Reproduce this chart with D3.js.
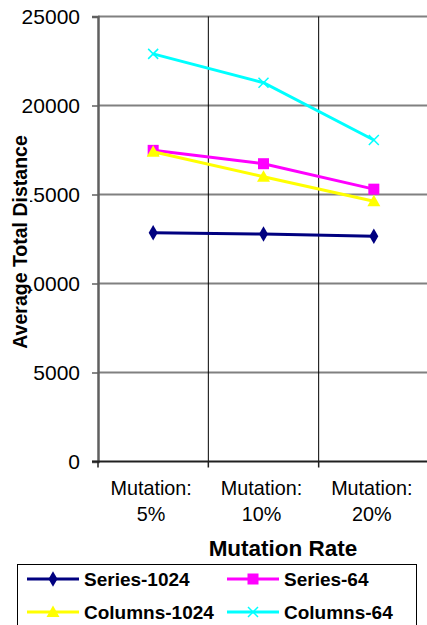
<!DOCTYPE html>
<html>
<head>
<meta charset="utf-8">
<script src="https://cdn.jsdelivr.net/npm/d3@7/dist/d3.min.js"></script>
<style>
html,body{margin:0;padding:0;background:#fff;}
svg{display:block;font-family:"Liberation Sans",Arial,sans-serif;}
</style>
</head>
<body>
<svg id="chart" width="427" height="625"></svg>
<script>
const categories = ["Mutation: 5%", "Mutation: 10%", "Mutation: 20%"];
const categoryLines = [["Mutation:", "5%"], ["Mutation:", "10%"], ["Mutation:", "20%"]];
const seriesNames = ["Series-1024", "Series-64", "Columns-1024", "Columns-64"];
const series1024 = [12850, 12780, 12650];
const series64 = [17480, 16730, 15300];
const columns1024 = [17400, 16000, 14620];
const columns64 = [22900, 21280, 18060];
const yTicks = [0, 5000, 10000, 15000, 20000, 25000];
const colors = ["#000080", "#FF00FF", "#FFFF00", "#00FFFF"];
const markers = ["diamond", "square", "triangle", "x"];
const seriesValues = [series1024, series64, columns1024, columns64];

const svg = d3.select("#chart");
const pLeft = 98, pRight = 429, pTop = 16.5, pBottom = 461.5;

const xBand = d3.scaleBand().domain(categories).range([pLeft, pRight]).paddingInner(0).paddingOuter(0);
const x = d3.scalePoint().domain(categories).range([pLeft, pRight]).padding(0.5);
const y = d3.scaleLinear().domain([0, 25000]).range([pBottom, pTop]);

// horizontal gridlines
svg.append("g").selectAll("line").data(yTicks.filter(d => d > 0)).join("line")
  .attr("x1", pLeft).attr("x2", pRight)
  .attr("y1", d => y(d)).attr("y2", d => y(d))
  .attr("stroke", "#808080").attr("stroke-width", 2);

// vertical gridlines (category boundaries)
const bounds = categories.slice(1).map(c => xBand(c));
svg.append("g").selectAll("line").data(bounds).join("line")
  .attr("x1", d => d).attr("x2", d => d)
  .attr("y1", pTop).attr("y2", pBottom)
  .attr("stroke", "#000").attr("stroke-width", 1);

// y axis
const yAxis = d3.axisLeft(y).tickValues(yTicks).tickSize(6).tickPadding(12).tickFormat(d3.format("d"));
const gy = svg.append("g").attr("transform", `translate(${pLeft},0)`).call(yAxis);
gy.select(".domain").attr("stroke", "#606060").attr("stroke-width", 2.5);
gy.selectAll(".tick line").attr("stroke", "#606060").attr("stroke-width", 1.5);
gy.selectAll(".tick text").attr("font-size", "21px").attr("fill", "#000")
  .attr("font-family", "'Liberation Sans',Arial,sans-serif");

// x axis line and ticks
const xTickPos = [pLeft].concat(bounds).concat([pRight]);
svg.append("line").attr("x1", pLeft - 6).attr("x2", pRight).attr("y1", pBottom).attr("y2", pBottom)
  .attr("stroke", "#202020").attr("stroke-width", 2);
svg.append("g").selectAll("line").data(xTickPos).join("line")
  .attr("x1", d => d).attr("x2", d => d).attr("y1", pBottom).attr("y2", pBottom + 6)
  .attr("stroke", "#202020").attr("stroke-width", 1.5);

// category labels
const cl = svg.append("g").selectAll("text").data(categories).join("text")
  .attr("x", d => x(d)).attr("text-anchor", "middle").attr("font-size", "19.8px").attr("fill", "#000");
cl.each(function(d, i) {
  const t = d3.select(this);
  t.append("tspan").attr("x", x(d) - 2).attr("y", 495).text(categoryLines[i][0]);
  t.append("tspan").attr("x", x(d) - 2).attr("y", 521).text(categoryLines[i][1]);
});

// x title
svg.append("text").attr("x", 283).attr("y", 556).attr("text-anchor", "middle")
  .attr("font-size", "22.5px").attr("font-weight", "bold").text("Mutation Rate");

// y title with white background
const yt = svg.append("g").attr("transform", "translate(20,242) rotate(-90)");
const ytText = yt.append("text").attr("text-anchor", "middle").attr("dominant-baseline", "central")
  .attr("font-size", "19.5px").attr("font-weight", "bold").text("Average Total Distance");
const bb = ytText.node().getBBox();
yt.insert("rect", "text").attr("x", bb.x).attr("y", bb.y + 1).attr("width", bb.width).attr("height", bb.height - 2).attr("fill", "#fff");

// marker drawing
function drawMarker(g, type, cx, cy, color) {
  if (type === "diamond") {
    g.append("path").attr("d", d3.symbol(d3.symbolDiamond, 70)()).attr("transform", `translate(${cx},${cy})`).attr("fill", color);
  } else if (type === "square") {
    g.append("rect").attr("x", cx - 5.5).attr("y", cy - 5.5).attr("width", 11).attr("height", 11).attr("fill", color);
  } else if (type === "triangle") {
    g.append("path").attr("d", `M${cx},${cy - 6.5}L${cx + 6.5},${cy + 5}L${cx - 6.5},${cy + 5}Z`).attr("fill", color);
  } else if (type === "x") {
    g.append("path").attr("d", `M${cx - 5},${cy - 5}L${cx + 5},${cy + 5}M${cx - 5},${cy + 5}L${cx + 5},${cy - 5}`)
      .attr("stroke", color).attr("stroke-width", 1.5).attr("fill", "none");
  }
}

// lines
const line = d3.line().x((d, i) => x(categories[i])).y(d => y(d));
seriesValues.forEach((vals, si) => {
  const g = svg.append("g");
  g.append("path").attr("d", line(vals)).attr("fill", "none").attr("stroke", colors[si]).attr("stroke-width", 3);
  vals.forEach((v, i) => drawMarker(g, markers[si], x(categories[i]), y(v), colors[si]));
});

// legend
const lg = svg.append("g");
lg.append("rect").attr("x", 17.5).attr("y", 564.5).attr("width", 399).attr("height", 70)
  .attr("fill", "#fff").attr("stroke", "#000").attr("stroke-width", 1);
const legPos = [[27, 579], [227, 579], [27, 612], [227, 612]];
seriesNames.forEach((name, i) => {
  const [lx, ly] = legPos[i];
  lg.append("line").attr("x1", lx).attr("x2", lx + 52).attr("y1", ly).attr("y2", ly)
    .attr("stroke", colors[i]).attr("stroke-width", 3);
  drawMarker(lg, markers[i], lx + 26, ly, colors[i]);
  lg.append("text").attr("x", lx + 57).attr("y", ly + 7).attr("font-size", "19px").attr("font-weight", "bold").text(name);
});
</script>
</body>
</html>
